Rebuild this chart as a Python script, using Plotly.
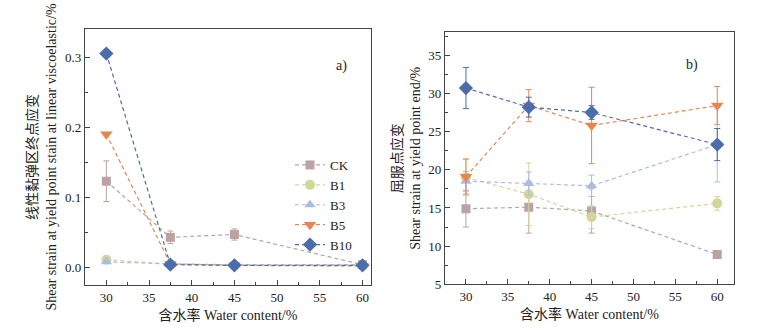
import plotly.graph_objects as go

W, H = 774, 327

names = ["CK", "B1", "B3", "B5", "B10"]
colors = ["#b9a4a1", "#d3d69b", "#a9bde3", "#e8864f", "#4d6cab"]
symbols = ["square", "circle", "triangle-up", "triangle-down", "diamond"]
sizes = [9, 10, 10, 11, 11]

water = [30, 37.5, 45, 60]

# Panel a) shear strain at end of linear viscoelastic region
lve = {
    "CK":  [0.123, 0.043, 0.047, 0.004],
    "B1":  [0.011, 0.005, 0.003, 0.003],
    "B3":  [0.008, 0.005, 0.004, 0.004],
    "B5":  [0.190, 0.005, 0.003, 0.002],
    "B10": [0.305, 0.004, 0.003, 0.003],
}
lve_err = {
    "CK":  [0.029, 0.009, 0.008, 0.002],
    "B1":  [0.001, 0.001, 0.001, 0.001],
    "B3":  [0.001, 0.001, 0.001, 0.001],
    "B5":  [0.001, 0.001, 0.001, 0.002],
    "B10": [0.001, 0.001, 0.001, 0.001],
}

# Panel b) shear strain at yield point end
yld = {
    "CK":  [14.9, 15.1, 14.6, 8.9],
    "B1":  [19.0, 16.8, 13.8, 15.6],
    "B3":  [18.5, 18.2, 17.9, 23.3],
    "B5":  [19.1, 28.4, 25.8, 28.4],
    "B10": [30.7, 28.2, 27.5, 23.3],
}
yld_err = {
    "CK":  [2.4, 3.4, 2.9, 0.3],
    "B1":  [2.4, 4.1, 1.5, 0.9],
    "B3":  [1.3, 1.5, 1.4, 4.9],
    "B5":  [2.3, 2.1, 5.0, 2.5],
    "B10": [2.7, 1.3, 0.9, 2.1],
}

fig = go.Figure()

for i, n in enumerate(names):
    common = dict(
        mode="lines+markers",
        name=n,
        line=dict(color=colors[i], width=1.2, dash="4px,3px"),
        marker=dict(symbol=symbols[i], size=sizes[i], color=colors[i]),
    )
    fig.add_trace(go.Scatter(
        x=water, y=lve[n], xaxis="x", yaxis="y", showlegend=True,
        error_y=dict(type="data", array=lve_err[n], color=colors[i], thickness=1, width=3),
        **common))
for i, n in enumerate(names):
    common = dict(
        mode="lines+markers",
        name=n,
        line=dict(color=colors[i], width=1.2, dash="4px,3px"),
        marker=dict(symbol=symbols[i], size=sizes[i], color=colors[i]),
    )
    fig.add_trace(go.Scatter(
        x=water, y=yld[n], xaxis="x2", yaxis="y2", showlegend=False,
        error_y=dict(type="data", array=yld_err[n], color=colors[i], thickness=1, width=3),
        **common))

font_fam = "Liberation Serif, Noto Sans CJK SC, serif"

axis_common = dict(
    showgrid=False, zeroline=False, showline=True, mirror=True,
    linecolor="#444", linewidth=1.2,
    ticks="inside", ticklen=5, tickcolor="#444",
    tickfont=dict(size=13, color="#222", family=font_fam),
    automargin=False,
)

def minor(dt):
    return dict(ticks="inside", ticklen=3, tickcolor="#444", dtick=dt, tick0=0)

def px_x(p):
    return p / W

def px_y(p):
    return (H - p) / H

fig.update_layout(
    width=W, height=H,
    margin=dict(l=0, r=0, t=0, b=0),
    plot_bgcolor="white", paper_bgcolor="white",
    font=dict(family=font_fam, size=13, color="#222"),
    xaxis=dict(domain=[px_x(85), px_x(371)], range=[27.5, 61], tickvals=[30, 35, 40, 45, 50, 55, 60],
               minor=minor(2.5),
               title=dict(text="含水率 Water content/%", font=dict(size=14), standoff=6),
               anchor="y", **axis_common),
    yaxis=dict(domain=[px_y(285), px_y(29)], range=[-0.025, 0.34], tickvals=[0, 0.1, 0.2, 0.3],
               tickformat=".1f", minor=minor(0.05),
               title=dict(text="线性黏弹区终点应变<br>Shear strain at yield point stain at linear viscoelastic/%",
                          font=dict(size=14), standoff=5),
               anchor="x", **axis_common),
    xaxis2=dict(domain=[px_x(445), px_x(734)], range=[27.5, 62], tickvals=[30, 35, 40, 45, 50, 55, 60],
                minor=minor(2.5),
                title=dict(text="含水率 Water content/%", font=dict(size=14), standoff=6),
                anchor="y2", **axis_common),
    yaxis2=dict(domain=[px_y(284.3), px_y(32.3)], range=[5, 38], tickvals=[5, 10, 15, 20, 25, 30, 35],
                minor=minor(2.5),
                title=dict(text="屈服点应变<br>Shear strain at yield point end/%",
                           font=dict(size=14), standoff=4),
                anchor="x2", **axis_common),
    legend=dict(x=px_x(290), y=px_y(150), xanchor="left", yanchor="top",
                bgcolor="rgba(0,0,0,0)", font=dict(size=13, family=font_fam),
                itemwidth=30, tracegroupgap=0),
    annotations=[
        dict(text="a)", x=px_x(341), y=px_y(56), xref="paper", yref="paper",
             showarrow=False, font=dict(size=14, family=font_fam)),
        dict(text="b)", x=px_x(700), y=px_y(55), xref="paper", yref="paper",
             showarrow=False, font=dict(size=14, family=font_fam)),
    ],
)

fig.write_html("out.html")
